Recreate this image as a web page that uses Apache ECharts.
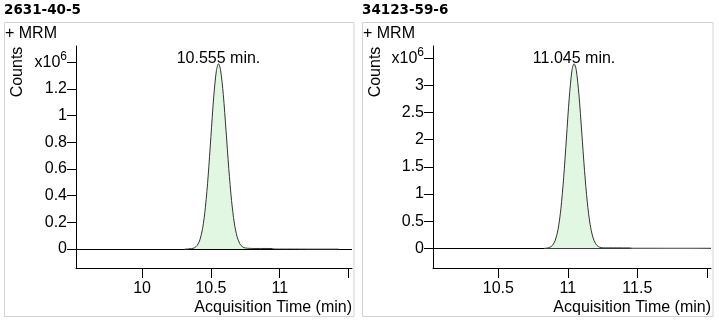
<!DOCTYPE html>
<html>
<head>
<meta charset="utf-8">
<script src="https://cdn.jsdelivr.net/npm/echarts@6/dist/echarts.min.js"></script>
<style>
  html, body { margin: 0; padding: 0; background: #fff; }
  #chart { width: 719px; height: 324px; }
</style>
</head>
<body>
<div id="chart"></div>
<script>
// Compound names shown above each chromatogram
const compoundNames = ['2631-40-5', '34123-59-6'];

// Trace 1: acquisition time (min) and counts (x10^6)
const timeA = [10.31, 10.34, 10.36, 10.38, 10.40, 10.42, 10.44, 10.46, 10.48, 10.50, 10.52, 10.54, 10.555,
  10.57, 10.59, 10.61, 10.63, 10.65, 10.67, 10.69, 10.71, 10.73, 10.75, 10.78, 10.82, 10.90, 11.00,
  11.10, 11.20, 11.30, 11.43];
const countsA = [0.0, 0.001, 0.003, 0.009, 0.026, 0.068, 0.156, 0.313, 0.548, 0.843, 1.135, 1.339, 1.39,
  1.344, 1.159, 0.887, 0.602, 0.363, 0.195, 0.093, 0.039, 0.016, 0.008, 0.005, 0.004, 0.004, 0.003,
  0.003, 0.002, 0.002, 0.002];

// Trace 2: acquisition time (min) and counts (x10^6)
const timeB = [10.83, 10.85, 10.87, 10.89, 10.91, 10.93, 10.95, 10.97, 10.99, 11.01, 11.03, 11.045,
  11.06, 11.08, 11.10, 11.12, 11.14, 11.16, 11.18, 11.20, 11.22, 11.24, 11.27, 11.32, 11.40, 11.50,
  11.60, 11.70, 11.80, 11.90, 12.03];
const countsB = [0.0, 0.005, 0.018, 0.055, 0.150, 0.353, 0.726, 1.300, 2.030, 2.764, 3.281, 3.40,
  3.294, 2.824, 2.141, 1.435, 0.850, 0.445, 0.206, 0.085, 0.031, 0.012, 0.008, 0.008, 0.007, 0.006,
  0.006, 0.005, 0.005, 0.005, 0.005];

// Axis ranges and ticks
const xRangeA = [9.52, 11.525];
const xRangeB = [10.03, 12.03];
const yRangeA = [-0.1425, 1.523];
const yRangeB = [-0.363, 3.726];
const xTicksA = [10, 10.5, 11, 11.5];
const xLabelsA = [10, 10.5, 11];
const xTicksB = [10.5, 11, 11.5, 12];
const xLabelsB = [10.5, 11, 11.5];
const yTicksA = [0, 0.2, 0.4, 0.6, 0.8, 1, 1.2, 1.4];
const yTicksB = [0, 0.5, 1, 1.5, 2, 2.5, 3, 3.5];

const FONT = '"Liberation Sans", Arial, sans-serif';

function peakOf(times, counts) {
  let k = 0;
  counts.forEach((c, i) => { if (c > counts[k]) k = i; });
  return [times[k], counts[k]];
}

function traceGradient(darkEnd) {
  return new echarts.graphic.LinearGradient(0, 0, 1, 0, [
    { offset: 0, color: '#a0a0a0' },
    { offset: 0.04, color: '#333333' },
    { offset: darkEnd, color: '#333333' },
    { offset: darkEnd + 0.02, color: '#a0a0a0' },
    { offset: 1, color: '#a0a0a0' }
  ]);
}

function xAxisFor(idx, range, ticks, labels) {
  return {
    type: 'value', gridIndex: idx, min: range[0], max: range[1],
    axisLine: { onZero: false, lineStyle: { color: '#000', width: 1 } },
    axisTick: { show: true, length: 10, customValues: ticks, lineStyle: { color: '#000' } },
    axisLabel: { customValues: labels, margin: 13, color: '#000', fontSize: 16, fontFamily: FONT,
      formatter: v => String(v) },
    splitLine: { show: false }
  };
}

function yAxisFor(idx, range, ticks) {
  const top = ticks[ticks.length - 1];
  return {
    type: 'value', gridIndex: idx, min: range[0], max: range[1],
    axisLine: { show: true, lineStyle: { color: '#000', width: 1 } },
    axisTick: { show: true, length: 9, customValues: ticks, lineStyle: { color: '#000' } },
    axisLabel: {
      customValues: ticks, margin: 9, color: '#000', fontSize: 16, fontFamily: FONT,
      formatter: v => (Math.abs(v - top) < 1e-9 ? '{a|x10}{s|6}' : String(v)),
      rich: {
        a: { fontSize: 16, lineHeight: 16, fontFamily: FONT, color: '#000' },
        s: { fontSize: 12, lineHeight: 12, fontFamily: FONT, color: '#000', padding: [0, 0, 12, 0] }
      }
    },
    splitLine: { show: false }
  };
}

function traceSeries(idx, times, counts, darkEnd) {
  const peak = peakOf(times, counts);
  return {
    type: 'line', xAxisIndex: idx, yAxisIndex: idx, z: 3,
    data: times.map((t, i) => [t, counts[i]]),
    showSymbol: false, symbol: 'none', smooth: 0.3, animation: false,
    lineStyle: { width: 1, color: traceGradient(darkEnd) },
    areaStyle: { color: '#e1f7e1', opacity: 1 },
    markLine: {
      silent: true, symbol: 'none', z: 1, animation: false,
      label: { show: false },
      lineStyle: { color: '#000', width: 1, type: 'solid' },
      data: [{ yAxis: 0 }]
    },
    markPoint: {
      silent: true, symbol: 'circle', symbolSize: 0, animation: false,
      itemStyle: { color: 'transparent' },
      label: {
        show: true, position: 'inside', offset: [0, -5],
        color: '#000', fontSize: 16, fontFamily: FONT,
        formatter: () => peak[0].toFixed(3) + ' min.'
      },
      data: [{ coord: peak }]
    }
  };
}

function panelGraphics(x0, w) {
  return [
    { type: 'rect', shape: { x: x0 + 0.5, y: 22.5, width: w, height: 294 },
      style: { fill: '#fff', stroke: '#d3d3d3', lineWidth: 1 }, z: -10 },
    { type: 'text', x: x0 + 1, y: 34, style: { text: '+ MRM', fontSize: 16, fontFamily: FONT,
      fill: '#000', verticalAlign: 'middle' } },
    { type: 'text', x: x0 + 13.5, y: 72, rotation: Math.PI / 2,
      style: { text: 'Counts', fontSize: 16, fontFamily: FONT, fill: '#000',
        align: 'center', verticalAlign: 'middle' } }
  ];
}

const chart = echarts.init(document.getElementById('chart'), null, { renderer: 'canvas' });

chart.setOption({
  animation: false,
  backgroundColor: '#fff',
  grid: [
    { left: 76, top: 46, width: 276, height: 222, containLabel: false },
    { left: 433, top: 46, width: 278, height: 222, containLabel: false }
  ],
  xAxis: [
    xAxisFor(0, xRangeA, xTicksA, xLabelsA),
    xAxisFor(1, xRangeB, xTicksB, xLabelsB)
  ],
  yAxis: [
    yAxisFor(0, yRangeA, yTicksA),
    yAxisFor(1, yRangeB, yTicksB)
  ],
  series: [
    traceSeries(0, timeA, countsA, 0.56),
    traceSeries(1, timeB, countsB, 0.51)
  ],
  graphic: [
    ...panelGraphics(4, 349.5),
    ...panelGraphics(362, 350.5),
    { type: 'text', x: 4, y: 10.5, style: { text: compoundNames[0], fontSize: 13.5, fontWeight: 'bold',
      fontFamily: '"DejaVu Sans", Verdana, sans-serif', fill: '#000', verticalAlign: 'middle' } },
    { type: 'text', x: 362, y: 10.5, style: { text: compoundNames[1], fontSize: 13.5, fontWeight: 'bold',
      fontFamily: '"DejaVu Sans", Verdana, sans-serif', fill: '#000', verticalAlign: 'middle' } },
    { type: 'text', x: 352, y: 308, style: { text: 'Acquisition Time (min)', fontSize: 16, fontFamily: FONT,
      fill: '#000', align: 'right', verticalAlign: 'middle' } },
    { type: 'text', x: 711, y: 308, style: { text: 'Acquisition Time (min)', fontSize: 16, fontFamily: FONT,
      fill: '#000', align: 'right', verticalAlign: 'middle' } }
  ]
});
</script>
</body>
</html>
